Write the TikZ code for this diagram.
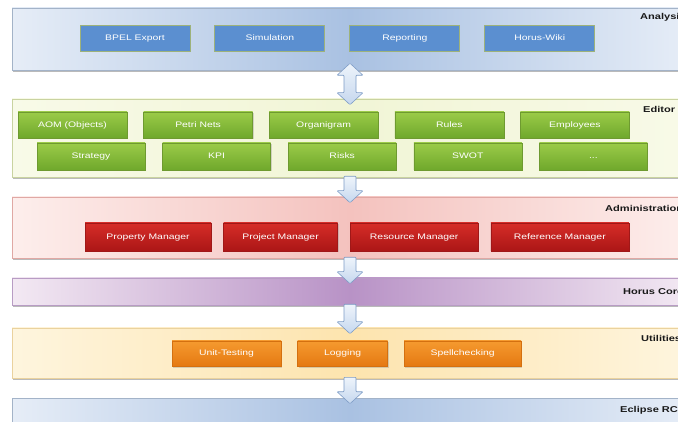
\documentclass[tikz,border=0pt]{standalone}
\usepackage{fontspec}
\setmainfont{Liberation Sans}
\newfontfamily\boxfont[FakeStretch=1.3]{Liberation Sans}
\usetikzlibrary{positioning,calc,shadows}

\definecolor{anaL}{HTML}{E6EDF7}
\definecolor{anaM}{HTML}{A9C1E2}
\definecolor{anaD}{HTML}{A3B3C8}
\definecolor{ediL}{HTML}{F8FAE8}
\definecolor{ediM}{HTML}{F1F5D6}
\definecolor{ediD}{HTML}{C9D3A0}
\definecolor{admL}{HTML}{FDEEEC}
\definecolor{admM}{HTML}{F4C2BE}
\definecolor{admD}{HTML}{E0A8A4}
\definecolor{corL}{HTML}{F3E9F3}
\definecolor{corM}{HTML}{B892C6}
\definecolor{corD}{HTML}{B89CC4}
\definecolor{utiL}{HTML}{FEF5DE}
\definecolor{utiM}{HTML}{FDE4AE}
\definecolor{utiD}{HTML}{EAD29E}
\definecolor{blueFill}{HTML}{5B8FD0}
\definecolor{blueLine}{HTML}{9DB27A}
\definecolor{greenT}{HTML}{9BCB48}
\definecolor{greenB}{HTML}{6FA82C}
\definecolor{greenLine}{HTML}{6E9A30}
\definecolor{redT}{HTML}{D62D28}
\definecolor{redB}{HTML}{AB1616}
\definecolor{redLine}{HTML}{A01818}
\definecolor{orangeT}{HTML}{F59A2F}
\definecolor{orangeB}{HTML}{E57912}
\definecolor{orangeLine}{HTML}{D4700F}
\definecolor{arrT}{HTML}{EEF4FB}
\definecolor{arrB}{HTML}{C5D7EE}
\definecolor{arrLine}{HTML}{7D9CC6}

\tikzstyle{band} = [rectangle, minimum width=676pt, inner sep=0pt, line width=0.6pt,
  drop shadow={shadow xshift=0.5pt, shadow yshift=-2pt, fill=black!45, opacity=0.6}]
\tikzstyle{bandlabel} = [anchor=west, inner sep=0pt, text=black!90,
  font=\boxfont\fontsize{8.5}{10}\selectfont\bfseries]
\tikzstyle{module} = [rectangle, inner sep=0pt, text=white, line width=0.6pt,
  text height=6pt, text depth=1.5pt, font=\boxfont\fontsize{8}{9}\selectfont]
\tikzstyle{bluemod} = [module, fill=blueFill, draw=blueLine, line width=0.9pt, minimum width=110pt, minimum height=26pt]
\tikzstyle{greenmod} = [module, top color=greenT, bottom color=greenB, draw=greenLine,
  drop shadow={shadow xshift=1pt, shadow yshift=-1.5pt, opacity=0.3}]
\tikzstyle{redmod} = [module, top color=redT, bottom color=redB, draw=redLine, minimum height=28pt,
  drop shadow={shadow xshift=1pt, shadow yshift=-1.5pt, opacity=0.3}]
\tikzstyle{orangemod} = [module, top color=orangeT, bottom color=orangeB, draw=orangeLine, minimum height=25pt,
  drop shadow={shadow xshift=1pt, shadow yshift=-1.5pt, opacity=0.3}]
\tikzstyle{blockarrow} = [draw=arrLine, top color=arrT, bottom color=arrB, line width=0.6pt, rounded corners=0.8pt]

% block arrow from the bottom of one band to the top of the next
\newcommand{\flowarrow}[2]{%
  \path[blockarrow] let \p1=(#1.south), \p2=(#2.north) in
    (\x1-6pt,\y1+1pt) -- (\x1+6pt,\y1+1pt) -- (\x1+6pt,\y2+6pt) -- (\x1+13pt,\y2+6pt)
    -- (\x1,\y2-6pt) -- (\x1-13pt,\y2+6pt) -- (\x1-6pt,\y2+6pt) -- cycle;}
\newcommand{\twowayarrow}[2]{%
  \path[blockarrow] let \p1=(#1.south), \p2=(#2.north) in
    (\x1,\y1+7pt) -- (\x1+13pt,\y1-5pt) -- (\x1+6pt,\y1-5pt) -- (\x1+6pt,\y2+6pt)
    -- (\x1+13pt,\y2+6pt) -- (\x1,\y2-6pt) -- (\x1-13pt,\y2+6pt) -- (\x1-6pt,\y2+6pt)
    -- (\x1-6pt,\y1-5pt) -- (\x1-13pt,\y1-5pt) -- cycle;}

\begin{document}
\begin{tikzpicture}[x=1pt,y=-1pt]
\useasboundingbox (0,0) rectangle (678,422);
\clip (0,0) rectangle (678,422);

% layers
\node[band, left color=anaL, right color=anaL, middle color=anaM, draw=anaD, minimum height=62pt] (analysis) at (350,39) {};
\node[band, left color=ediL, right color=ediL, middle color=ediM, draw=ediD, minimum height=78pt] (editor) at (350,138) {};
\node[band, left color=admL, right color=admL, middle color=admM, draw=admD, minimum height=61pt] (admin) at (350,227.5) {};
\node[band, left color=corL, right color=corL, middle color=corM, draw=corD, minimum height=27pt] (core) at (350,291.5) {};
\node[band, left color=utiL, right color=utiL, middle color=utiM, draw=utiD, minimum height=50pt] (utilities) at (350,353) {};
\node[band, left color=anaL, right color=anaL, middle color=anaM, draw=anaD, minimum height=42pt] (eclipse) at (350,419) {};

\node[bandlabel] (analysislbl) at (640,17) {Analysis};
\node[bandlabel] (editorlbl) at (643,109) {Editor};
\node[bandlabel] (adminlbl) at (605,208) {Administration};
\node[bandlabel] (corelbl) at (623,292) {Horus Core};
\node[bandlabel] (utilitieslbl) at (641,338) {Utilities};
\node[bandlabel] (eclipselbl) at (620,410) {Eclipse RCP};

% arrows between layers
\twowayarrow{analysis}{editor}
\flowarrow{editor}{admin}
\flowarrow{admin}{core}
\flowarrow{core}{utilities}
\flowarrow{utilities}{eclipse}

% analysis
\node[bluemod] (bpel) at (135,38) {BPEL Export};
\node[bluemod, right=24pt of bpel] (simulation) {Simulation};
\node[bluemod, right=24pt of simulation] (reporting) {Reporting};
\node[bluemod, right=24pt of reporting] (wiki) {Horus-Wiki};

% editors
\node[greenmod, minimum width=109pt, minimum height=26pt] (aom) at (72.5,125) {AOM (Objects)};
\node[greenmod, minimum width=109pt, minimum height=26pt, right=16pt of aom] (petri) {Petri Nets};
\node[greenmod, minimum width=109pt, minimum height=26pt, right=16pt of petri] (organigram) {Organigram};
\node[greenmod, minimum width=109pt, minimum height=26pt, right=16pt of organigram] (rules) {Rules};
\node[greenmod, minimum width=109pt, minimum height=26pt, right=16pt of rules] (employees) {Employees};
\node[greenmod, minimum width=108pt, minimum height=27pt] (strategy) at (91,156.5) {Strategy};
\node[greenmod, minimum width=108pt, minimum height=27pt, right=17pt of strategy] (kpi) {KPI};
\node[greenmod, minimum width=108pt, minimum height=27pt, right=17pt of kpi] (risks) {Risks};
\node[greenmod, minimum width=108pt, minimum height=27pt, right=17pt of risks] (swot) {SWOT};
\node[greenmod, minimum width=108pt, minimum height=27pt, right=17pt of swot] (more) {...};

% administration
\node[redmod, minimum width=126pt] (property) at (148,237) {Property Manager};
\node[redmod, minimum width=114pt, right=12pt of property] (project) {Project Manager};
\node[redmod, minimum width=128pt, right=12pt of project] (resource) {Resource Manager};
\node[redmod, minimum width=138pt, right=12pt of resource] (reference) {Reference Manager};

% utilities
\node[orangemod, minimum width=109pt] (unittest) at (226.5,353.5) {Unit-Testing};
\node[orangemod, minimum width=90pt, right=16pt of unittest] (logging) {Logging};
\node[orangemod, minimum width=117pt, right=16pt of logging] (spelling) {Spellchecking};
\end{tikzpicture}
\end{document}
